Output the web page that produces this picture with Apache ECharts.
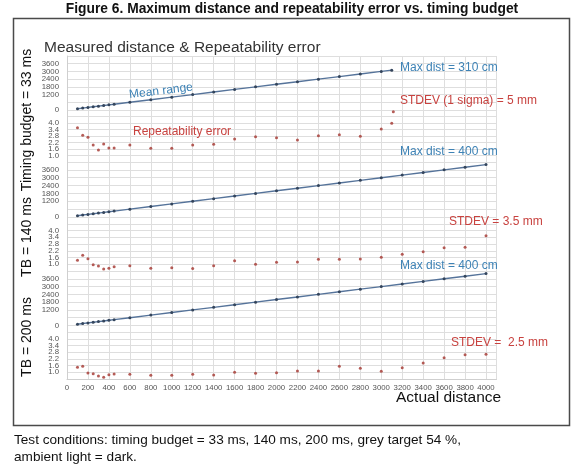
<!DOCTYPE html>
<html>
<head>
<meta charset="utf-8">
<script src="https://cdn.jsdelivr.net/npm/echarts@6/dist/echarts.min.js"></script>
<style>html,body{margin:0;padding:0;background:#fff;}#c{width:581px;height:465px;}</style>
</head>
<body>
<div id="c"></div>
<script>
// ---- data ----
const xTicks = [0,200,400,600,800,1000,1200,1400,1600,1800,2000,2200,2400,2600,2800,3000,3200,3400,3600,3800,4000];
const rangeTicks = [0,1200,1800,2400,3000,3600];
const repTicks = [1.0,1.6,2.2,2.8,3.4,4.0];

// TB = 33 ms
const actual33 = [100,150,200,250,300,350,400,450,600,800,1000,1200,1400,1600,1800,2000,2200,2400,2600,2800,3000,3100];
const mean33   = [100,150,200,250,300,350,400,450,600,800,1000,1200,1400,1600,1800,2000,2200,2400,2600,2800,3000,3100];
const repX33   = [100,150,200,250,300,350,400,450,600,800,1000,1200,1400,1600,1800,2000,2200,2400,2600,2800,3000,3100,3115];
const rep33    = [3.57,2.87,2.68,1.97,1.51,2.06,1.69,1.69,1.97,1.66,1.66,1.97,2.03,2.52,2.74,2.64,2.43,2.83,2.92,2.77,3.45,3.97,5.04];

// TB = 140 ms
const actual140 = [100,150,200,250,300,350,400,450,600,800,1000,1200,1400,1600,1800,2000,2200,2400,2600,2800,3000,3200,3400,3600,3800,4000];
const mean140   = [100,150,200,250,300,350,400,450,600,800,1000,1200,1400,1600,1800,2000,2200,2400,2600,2800,3000,3200,3400,3600,3800,4000];
const rep140    = [1.35,1.80,1.49,0.96,0.84,0.58,0.64,0.78,0.87,0.64,0.69,0.62,0.87,1.32,1.00,1.17,1.20,1.44,1.44,1.47,1.62,1.88,2.12,2.47,2.51,3.54];

// TB = 200 ms
const actual200 = [100,150,200,250,300,350,400,450,600,800,1000,1200,1400,1600,1800,2000,2200,2400,2600,2800,3000,3200,3400,3600,3800,4000];
const mean200   = [100,150,200,250,300,350,400,450,600,800,1000,1200,1400,1600,1800,2000,2200,2400,2600,2800,3000,3200,3400,3600,3800,4000];
const rep200    = [1.45,1.54,0.94,0.88,0.67,0.55,0.79,0.85,0.82,0.73,0.73,0.83,0.76,1.00,0.91,0.97,1.12,1.12,1.54,1.36,1.10,1.41,1.83,2.31,2.58,2.62];

const panelNames = ['Timing budget = 33 ms','TB = 140 ms','TB = 200 ms'];
const xName = 'Actual distance';

// ---- layout ----
const L = 67, R = 84.5;
const grids = [
  {top:56, bottom:110}, {top:110, bottom:162},
  {top:162, bottom:217}, {top:217, bottom:271},
  {top:271, bottom:325.5}, {top:325.5, bottom:379}
];
const gridLine = {show:true, lineStyle:{color:'#dedede', width:1}};
const lblFont = {fontFamily:'Liberation Sans, Arial', fontSize:7.8, color:'#555'};

const grid = grids.map(g => ({left:L, right:R, top:g.top, height:g.bottom-g.top}));
const xAxis = grids.map((g,i) => ({
  type:'value', gridIndex:i, min:0, max:4100, interval:200,
  axisLine:{show:i===5, lineStyle:{color:'#cfcfcf'}}, axisTick:{show:false},
  splitLine:gridLine,
  axisLabel: i===5 ? Object.assign({show:true, margin:5, showMaxLabel:false,
      formatter: v => xTicks.indexOf(v) >= 0 ? String(v) : ''}, lblFont) : {show:false}
}));
const yAxis = grids.map((g,i) => {
  const isRange = i % 2 === 0;
  return isRange ? {
    type:'value', gridIndex:i, min:0, max:4200, interval:600,
    axisLine:{show:true, lineStyle:{color:'#cfcfcf'}}, axisTick:{show:false},
    splitLine:gridLine,
    axisLabel:Object.assign({margin:8, formatter: v => rangeTicks.indexOf(v) >= 0 ? String(v) : ''}, lblFont)
  } : {
    type:'value', gridIndex:i, min:0.4, max:5.2, interval:0.6,
    axisLine:{show:true, lineStyle:{color:'#cfcfcf'}}, axisTick:{show:false},
    splitLine:gridLine,
    axisLabel:Object.assign({margin:8, formatter: v => repTicks.some(t => Math.abs(t-v) < 1e-6) ? v.toFixed(1) : ''}, lblFont)
  };
});

function lineS(idx, xs, ys){
  return {type:'line', xAxisIndex:idx, yAxisIndex:idx, data: xs.map((x,k)=>[x, ys[k]]),
    symbol:'circle', symbolSize:3, showSymbol:true,
    lineStyle:{color:'#55739a', width:1.4}, itemStyle:{color:'#34455c'}, animation:false, z:3};
}
function dotS(idx, xs, ys){
  return {type:'scatter', xAxisIndex:idx, yAxisIndex:idx, data: xs.map((x,k)=>[x, ys[k]]),
    symbol:'circle', symbolSize:3, itemStyle:{color:'#a8403a', opacity:0.85}, animation:false, z:3};
}

const series = [
  lineS(0, actual33, mean33), dotS(1, repX33, rep33),
  lineS(2, actual140, mean140), dotS(3, actual140, rep140),
  lineS(4, actual200, mean200), dotS(5, actual200, rep200)
];

const F = 'Liberation Sans, Arial, sans-serif';
function txt(text, x, y, size, fill, opts){
  return Object.assign({type:'text', x:x, y:y, silent:true, z:10,
    style:Object.assign({text:text, font: size+'px '+F, fill:fill, textAlign:'left', textVerticalAlign:'middle'}, (opts&&opts.style)||{})},
    opts && opts.rotation !== undefined ? {rotation:opts.rotation} : {});
}
const blue = '#3d82b5', red = '#c8423f';

const graphic = [
  {type:'rect', shape:{x:13.5, y:18.5, width:556, height:407}, style:{fill:'none', stroke:'#4a4a4a', lineWidth:1.5}, z:0, silent:true},
  txt('Figure 6. Maximum distance and repeatability error vs. timing budget', 292, 9.5, 13.8, '#111', {style:{textAlign:'center', font:'bold 13.8px '+F}}),
  txt('Measured distance & Repeatability error', 44, 48, 15.5, '#333'),
  txt(panelNames[0], 27, 120, 14, '#111', {rotation:Math.PI/2, style:{textAlign:'center'}}),
  txt(panelNames[1], 27, 237, 14, '#111', {rotation:Math.PI/2, style:{textAlign:'center'}}),
  txt(panelNames[2], 27, 337, 14, '#111', {rotation:Math.PI/2, style:{textAlign:'center'}}),
  txt('Mean range', 161, 91, 12, blue, {rotation:0.12, style:{textAlign:'center'}}),
  txt('Repeatability error', 133, 132, 12, red),
  txt('Max dist = 310 cm', 400, 68, 12, blue),
  txt('STDEV (1 sigma) = 5 mm', 400, 101, 12, red),
  txt('Max dist = 400 cm', 400, 152, 12, blue),
  txt('STDEV = 3.5 mm', 449, 222, 12, red),
  txt('Max dist = 400 cm', 400, 266, 12, blue),
  txt('STDEV =  2.5 mm', 451, 343, 12, red),
  txt(xName, 396, 398, 15.5, '#111'),
  txt('Test conditions: timing budget = 33 ms, 140 ms, 200 ms, grey target 54 %,', 14, 440, 13.6, '#111'),
  txt('ambient light = dark.', 14, 457, 13.6, '#111')
];

const chart = echarts.init(document.getElementById('c'), null, {renderer:'canvas'});
chart.setOption({animation:false, backgroundColor:'#fff', grid, xAxis, yAxis, series, graphic});
</script>
</body>
</html>
